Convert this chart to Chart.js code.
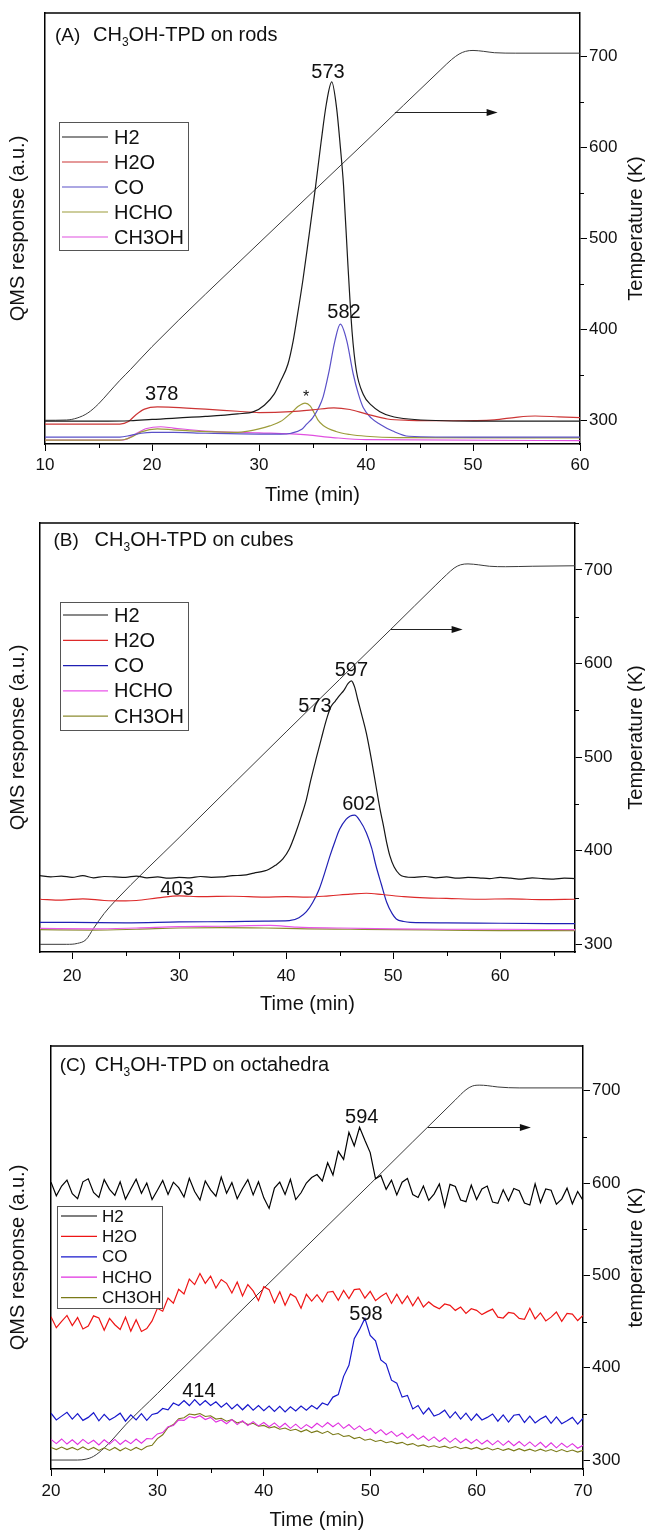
<!DOCTYPE html>
<html>
<head>
<meta charset="utf-8">
<title>CH3OH-TPD</title>
<script src="https://cdn.jsdelivr.net/npm/chart.js@4.4.1/dist/chart.umd.min.js"></script>
<style>
  body { margin: 0; background: #fff; }
  .panel { position: absolute; left: 0; width: 645px; }
</style>
</head>
<body>
<div class="panel" style="top:0;height:510px"><canvas id="chartA" width="645" height="510"></canvas></div>
<div class="panel" style="top:510px;height:515px"><canvas id="chartB" width="645" height="515"></canvas></div>
<div class="panel" style="top:1025px;height:514px"><canvas id="chartC" width="645" height="514"></canvas></div>
<script>
const FONT = "'Liberation Sans', Arial, sans-serif";
const SERIES = ['H2', 'H2O', 'CO', 'HCHO', 'CH3OH'];
const tempTicks = [300, 400, 500, 600, 700];

// ---------- (A) rods ----------
const xTicksA = [10, 20, 30, 40, 50, 60];
const tempA_t = [10, 12, 13, 14, 15, 16, 17, 18, 20, 30, 40, 47, 48, 48.7, 49.3, 50, 51, 52, 54, 60];
const tempA   = [300, 300.3, 302.5, 308, 318, 331, 344, 356, 381, 495, 607, 686, 697, 703, 706, 707, 706, 704.5, 704, 704];

const h2A_t = [10, 15, 18, 20, 25, 28, 29.5, 30.5, 31.4, 32, 32.7, 33.2, 33.6, 34.1, 34.6, 35.3, 35.8, 36.3, 36.8, 37.25,
               37.6, 37.9, 38.3, 38.7, 39.1, 39.75, 40.5, 41.3, 42.3, 44, 50, 60];
const h2A   = [5.3, 5.3, 5.4, 5.7, 6.4, 7.0, 7.5, 9.0, 11.5, 14.5, 18.5, 24, 30, 38, 47, 60, 70, 79, 84, 78,
               69, 60, 42, 26, 17, 11.5, 9, 7.5, 6.5, 5.8, 5.3, 5.3];
const h2oA_t = [10, 17, 17.8, 18.5, 19.3, 20.5, 22, 25, 28, 30, 33, 35, 37, 38.5, 40, 42, 44, 48, 52, 54, 55.8, 58, 60];
const h2oA   = [4.6, 4.6, 5.2, 6.8, 8.1, 8.6, 8.5, 8.1, 7.6, 7.3, 7.5, 7.9, 8.4, 8.0, 7.0, 5.8, 5.5, 5.4, 5.6, 6.2, 6.5, 6.3, 6.1];
const coA_t = [10, 17, 18, 19, 20, 22, 25, 30, 32, 33, 34, 34.45, 35, 35.6, 36, 36.5, 37.1, 37.6, 38.2, 38.8,
               39.3, 39.75, 40.5, 41.3, 42.5, 44, 50, 60];
const coA   = [1.6, 1.6, 2.0, 2.5, 2.7, 2.7, 2.5, 2.3, 2.3, 2.5, 3.4, 4.6, 6.0, 8.5, 11, 16.3, 24, 27.8, 24, 16.3,
               11.5, 8.4, 6.0, 4.6, 3.0, 1.8, 1.6, 1.6];
const hchoA_t = [10, 17, 18, 19, 20.5, 22, 24, 26, 28, 29, 30, 31, 32, 33, 33.7, 34.3, 34.8, 35.2, 35.5, 36, 37.2, 38.5, 40, 43, 60];
const hchoA   = [0.9, 0.9, 1.5, 2.8, 3.5, 3.3, 3.0, 2.8, 2.7, 3.0, 3.5, 4.2, 5.2, 7.2, 8.8, 9.5, 8.8, 7.0, 5.6, 4.3, 2.9, 2.2, 1.8, 1.5, 1.4];
const ch3ohA_t = [10, 17, 17.7, 18.5, 19.5, 20.8, 22, 25, 30, 34.5, 36.9, 40, 60];
const ch3ohA   = [0.9, 0.9, 1.2, 2.4, 3.6, 4.0, 3.7, 3.0, 2.6, 2.1, 1.5, 1.0, 0.8];

const notesA_text = ['573', '582', '378', '*'];
const notesA_t    = [36.45, 37.94, 20.9, 34.4];
const notesA_v    = [86.2, 30.5, 11.4, 10.7];

// ---------- (B) cubes ----------
const xTicksB = [20, 30, 40, 50, 60];
const tempB_t = [17, 19.5, 20.5, 21.3, 22, 23, 24, 30, 40, 50, 54, 55, 55.7, 56.3, 57, 58, 59, 60.5, 63, 67];
const tempB   = [300, 300, 301, 305, 317, 333, 346, 414, 527, 639, 684, 695, 702, 705.5, 706.5, 705.5, 704, 703.5, 704, 704.5];

const h2B_t = [17, 18, 19, 20, 21, 22, 23, 24, 25, 26, 27, 28, 29, 30, 31, 32, 33, 34, 35, 36, 37, 38,
               38.4, 39, 39.7, 40.3, 40.9, 41.4, 41.9, 42.3, 42.8, 43.3,
               43.75, 44.2, 44.6, 45, 45.4, 45.8, 46.1, 46.4, 46.7, 47.1,
               47.5, 48, 48.4, 48.8, 49.1, 49.4, 49.7, 50.1, 50.6, 51,
               52, 53, 54, 55, 56, 57, 58, 59, 60, 61, 62, 63, 64, 65, 66, 67];
const h2B   = [17.8, 17.5, 17.7, 17.4, 17.8, 17.3, 17.6, 17.5, 17.4, 17.7, 17.3, 17.5, 17.2, 17.4, 17.3, 17.6, 17.4, 17.5, 17.8, 17.9, 18.4, 18.9,
               19.3, 20.2, 21.7, 24.0, 27.8, 31.5, 35.6, 40.0, 45.0, 49.8,
               54.0, 57.2, 58.5, 59.8, 61.0, 62.6, 63.2, 61.8, 58.8, 55.0,
               51.0, 44.5, 38.7, 33.0, 29.4, 25.5, 22.4, 19.8, 18.1, 17.6,
               17.4, 17.6, 17.3, 17.5, 17.2, 17.4, 17.3, 17.1, 17.4, 17.2, 17.0, 17.3, 17.1, 17.0, 17.2, 17.1];
const h2oB_t = [17, 19, 21, 23, 25, 26, 28, 30, 32, 35, 38, 40, 42, 44, 46, 47.5, 49, 51, 53, 55, 58, 61, 64, 67];
const h2oB   = [12.3, 12.1, 12.4, 12.0, 11.9, 12.0, 12.6, 13.1, 12.9, 13.0, 12.8, 12.9, 12.8, 13.1, 13.5, 13.7, 13.4, 12.9, 12.6, 12.5, 12.3, 12.4, 12.2, 12.3];
const coB_t = [17, 20, 25, 30, 35, 38, 40.3, 41.2, 41.9, 42.5, 43.1, 43.6, 44.1, 44.6, 45, 45.6, 46, 46.4, 46.9, 47.5,
               48, 48.4, 48.9, 49.4, 49.9, 50.3, 51, 51.6, 55, 60, 67];
const coB   = [6.9, 6.9, 6.8, 7.0, 7.1, 7.2, 7.3, 8.0, 9.4, 11.6, 14.7, 18.4, 22.4, 26.0, 28.6, 30.9, 31.7, 31.9, 30.6, 27.8,
               24.2, 20.1, 15.8, 11.6, 9.0, 7.7, 7.1, 6.9, 6.8, 6.7, 6.6];
const hchoB_t = [17, 22, 26, 30, 34, 38.5, 41, 45, 50, 55, 60, 67];
const hchoB   = [5.5, 5.4, 5.6, 5.9, 6.0, 6.2, 5.8, 5.6, 5.4, 5.3, 5.3, 5.2];
const ch3ohB_t = [17, 22, 26, 30, 34, 38, 42, 46, 50, 55, 60, 67];
const ch3ohB   = [5.2, 5.1, 5.3, 5.6, 5.7, 5.6, 5.4, 5.3, 5.2, 5.1, 5.0, 5.0];

const notesB_text = ['597', '573', '602', '403'];
const notesB_t    = [46.1, 42.7, 46.8, 29.8];
const notesB_v    = [65.7, 57.3, 34.5, 14.5];

// ---------- (C) octahedra ----------
const xTicksC = [20, 30, 40, 50, 60, 70];
const tempC_t = [20, 22.5, 23.3, 24, 25, 26, 27, 30, 40, 50, 58, 59, 59.6, 60.3, 61, 62, 64, 70];
const tempC   = [300, 300, 301, 304, 313, 325, 338, 372, 486, 599, 690, 701, 705, 706, 705.5, 704, 703, 703];

const timeC = [20, 20.5, 21, 21.5, 22, 22.5, 23, 23.5, 24, 24.5, 25, 25.5, 26, 26.5, 27, 27.5, 28, 28.5, 29, 29.5,
               30, 30.5, 31, 31.5, 32, 32.5, 33, 33.5, 34, 34.5, 35, 35.5, 36, 36.5, 37, 37.5, 38, 38.5, 39, 39.5,
               40, 40.5, 41, 41.5, 42, 42.5, 43, 43.5, 44, 44.5, 45, 45.5, 46, 46.5, 47, 47.5, 48, 48.5, 49, 49.5,
               50, 50.5, 51, 51.5, 52, 52.5, 53, 53.5, 54, 54.5, 55, 55.5, 56, 56.5, 57, 57.5, 58, 58.5, 59, 59.5,
               60, 60.5, 61, 61.5, 62, 62.5, 63, 63.5, 64, 64.5, 65, 65.5, 66, 66.5, 67, 67.5, 68, 68.5, 69, 69.5, 70];
const h2C = [67.8, 64.6, 66.9, 68.3, 65.1, 63.9, 67.9, 68.6, 65.4, 64.2,
             68.4, 66.1, 64.7, 67.9, 63.8, 66.2, 68.5, 65.2, 67.6, 63.7,
             65.9, 68.2, 64.9, 67.8, 66.5, 64.3, 68.7, 65.6, 63.6, 68.1,
             66.0, 64.5, 69.0, 65.2, 67.7, 63.9, 66.3, 68.4, 64.8, 67.9,
             64.1, 61.6, 66.4, 67.8, 64.9, 68.5, 63.7, 65.3, 67.6, 68.9,
             69.6, 68.1, 72.4, 69.5, 75.1, 73.2, 79.6, 76.4, 80.8, 77.7,
             74.8, 68.6, 69.4, 66.1, 68.3, 64.8, 67.8, 68.7, 64.9, 64.2,
             66.9, 63.5, 65.0, 67.4, 62.0, 67.3, 66.8, 63.6, 63.2, 67.1,
             63.7, 66.2, 66.9, 63.1, 62.8, 66.0, 63.4, 66.3, 65.8, 62.9,
             62.4, 67.4, 63.0, 66.2, 65.9, 62.6, 63.8, 66.4, 62.7, 65.6, 63.5];
const h2oC = [36.0, 33.4, 34.9, 36.3, 33.9, 35.8, 33.1, 33.8, 36.2, 35.7,
              32.8, 35.6, 34.1, 33.0, 35.9, 32.6, 35.3, 32.5, 33.2, 35.0,
              38.0, 37.3, 40.4, 39.2, 42.5, 41.4, 44.9, 43.6, 46.2, 43.9,
              45.6, 42.8, 44.8, 43.9, 41.6, 44.2, 40.9, 43.6, 42.1, 39.8,
              43.1, 42.4, 39.3, 41.9, 38.7, 41.4, 40.6, 38.0, 41.3, 39.7,
              41.2, 39.5, 41.8, 42.0, 39.9, 42.2, 40.3, 42.4, 42.6, 40.4,
              42.0, 39.8, 40.8, 41.6, 39.2, 41.3, 39.1, 40.9, 38.6, 40.6,
              38.3, 39.5, 38.5, 37.9, 39.0, 38.7, 37.5, 38.3, 36.8, 37.9,
              37.5, 36.5, 37.2, 37.8, 35.9, 35.7, 37.0, 36.8, 35.6, 35.4,
              38.0, 35.5, 36.9, 35.0, 35.9, 37.1, 34.9, 36.8, 36.6, 35.1, 36.3];
const coC = [13.2, 11.6, 12.5, 13.4, 11.8, 13.1, 11.5, 12.2, 13.3, 11.4,
             12.9, 11.6, 12.3, 13.2, 11.3, 12.8, 11.6, 13.1, 11.5, 12.9,
             13.2, 14.3, 14.0, 15.6, 15.0, 16.2, 15.0, 16.4, 15.1, 16.2,
             15.0, 15.9, 14.6, 15.6, 14.2, 15.3, 14.0, 15.2, 13.9, 15.0,
             13.8, 14.9, 13.6, 14.8, 13.5, 14.7, 13.7, 14.9, 13.9, 15.0,
             14.2, 15.6, 15.1, 17.0, 17.6, 21.9, 24.5, 30.8, 33.0, 35.6,
             31.6, 30.3, 25.8, 24.8, 21.0, 20.3, 17.0, 17.4, 14.2, 15.0,
             13.0, 14.4, 12.5, 13.0, 13.9, 12.1, 13.5, 11.8, 13.2, 11.5,
             13.0, 11.6, 12.2, 13.0, 11.3, 12.8, 11.1, 12.7, 12.9, 11.0,
             12.5, 10.9, 11.8, 12.5, 10.8, 12.3, 10.7, 11.4, 12.2, 10.6, 12.0];
const hchoC = [7.0, 6.0, 7.1, 5.9, 6.9, 5.8, 7.0, 6.0, 6.8, 5.7,
               6.9, 5.9, 7.0, 5.8, 6.8, 6.0, 7.1, 6.1, 7.2, 7.1,
               8.3, 8.6, 10.0, 10.3, 11.6, 11.5, 12.4, 12.1, 12.6, 11.7,
               12.2, 11.1, 11.6, 10.7, 11.7, 10.5, 11.4, 10.3, 11.2, 10.2,
               11.0, 10.0, 10.9, 9.8, 10.8, 9.6, 10.6, 9.5, 10.5, 9.7,
               10.8, 9.9, 11.0, 10.0, 10.9, 9.6, 10.5, 9.3, 10.2, 9.0,
               9.6, 8.4, 9.3, 8.1, 8.9, 7.7, 8.5, 7.3, 8.2, 7.0,
               7.8, 6.7, 7.6, 6.5, 7.4, 6.3, 7.3, 6.2, 7.1, 6.1,
               7.0, 5.9, 6.8, 5.7, 6.7, 5.6, 6.6, 5.5, 6.5, 5.4,
               6.4, 5.3, 6.3, 5.1, 6.2, 5.0, 6.1, 5.1, 6.0, 4.9, 5.6];
const ch3ohC = [5.1, 4.6, 5.2, 4.6, 5.1, 4.5, 5.2, 4.5, 5.1, 4.4,
                5.0, 4.4, 5.1, 4.3, 5.0, 4.4, 5.1, 4.5, 5.3, 5.6,
                7.2, 8.1, 9.8, 10.5, 11.9, 12.1, 13.0, 12.8, 13.1, 12.4,
                12.6, 11.8, 12.0, 11.3, 11.7, 10.9, 11.2, 10.5, 10.8, 10.1,
                10.3, 9.7, 10.0, 9.4, 9.7, 9.1, 9.4, 8.8, 9.3, 8.6,
                9.0, 8.4, 8.9, 8.1, 8.4, 7.7, 7.9, 7.2, 7.5, 6.8,
                7.1, 6.5, 6.8, 6.2, 6.5, 6.0, 6.3, 5.7, 6.0, 5.4,
                5.7, 5.2, 5.5, 5.1, 5.4, 4.9, 5.3, 4.8, 5.1, 4.7,
                5.1, 4.6, 5.0, 4.5, 4.9, 4.4, 4.8, 4.3, 4.8, 4.3,
                4.7, 4.2, 4.7, 4.2, 4.6, 4.1, 4.6, 4.1, 4.5, 4.0, 4.4];

const notesC_text = ['594', '598', '414'];
const notesC_t    = [49.2, 49.6, 33.9];
const notesC_v    = [83.1, 36.6, 18.3];

// -------------------------------------------------------------
function pts(ts, vs) {
    return ts.map((t, i) => ({ x: t, y: vs[i] }));
}

const decorPlugin = {
    id: 'decor',
    afterDatasetsDraw(chart, args, o) {
        const ctx = chart.ctx;
        const a = chart.chartArea;
        const xs = chart.scales.x, ys = chart.scales.y, y2 = chart.scales.y2;
        ctx.save();

        // top frame line
        ctx.strokeStyle = '#000';
        ctx.lineWidth = 1.5;
        ctx.beginPath();
        ctx.moveTo(a.left, a.top);
        ctx.lineTo(a.right, a.top);
        ctx.stroke();

        // minor ticks
        ctx.lineWidth = 1;
        ctx.beginPath();
        for (let v = Math.ceil(xs.min / 5) * 5; v <= xs.max; v += 5) {
            if (v % 10 === 0) continue;
            const px = Math.round(xs.getPixelForValue(v)) + 0.5;
            ctx.moveTo(px, a.bottom);
            ctx.lineTo(px, a.bottom + 4);
        }
        for (let v = Math.ceil(y2.min / 50) * 50; v <= y2.max; v += 50) {
            if (v % 100 === 0) continue;
            const py = Math.round(y2.getPixelForValue(v)) + 0.5;
            ctx.moveTo(a.right, py);
            ctx.lineTo(a.right + 4, py);
        }
        ctx.stroke();

        // right axis title (reads bottom to top)
        ctx.fillStyle = '#111';
        ctx.save();
        ctx.translate(o.rightTitleX, (a.top + a.bottom) / 2);
        ctx.rotate(-Math.PI / 2);
        ctx.font = '20px ' + FONT;
        ctx.textAlign = 'center';
        ctx.textBaseline = 'middle';
        ctx.fillText(o.rightTitle, 0, 0);
        ctx.restore();

        // panel title with subscript
        const t = o.title;
        ctx.textAlign = 'left';
        ctx.textBaseline = 'alphabetic';
        ctx.font = '19px ' + FONT;
        const ty = a.top + t.dy;
        ctx.fillText(t.tag, a.left + t.dx, ty);
        let x = a.left + t.dx2;
        ctx.font = '20px ' + FONT;
        ctx.fillText('CH', x, ty);
        x += ctx.measureText('CH').width;
        ctx.font = '12px ' + FONT;
        ctx.fillText('3', x, ty + 5);
        x += ctx.measureText('3').width;
        ctx.font = '20px ' + FONT;
        ctx.fillText(t.rest, x, ty);

        // legend
        const L = o.legend;
        ctx.fillStyle = '#fff';
        ctx.fillRect(L.x, L.y, L.w, L.h);
        ctx.strokeStyle = '#555';
        ctx.lineWidth = 1;
        ctx.strokeRect(L.x + 0.5, L.y + 0.5, L.w, L.h);
        ctx.font = L.font + 'px ' + FONT;
        ctx.textBaseline = 'middle';
        const items = chart.data.datasets.filter(d => d.yAxisID === 'y');
        items.forEach((d, i) => {
            const ry = L.row0 + i * L.step;
            ctx.strokeStyle = d.borderColor;
            ctx.lineWidth = 1.2;
            ctx.beginPath();
            ctx.moveTo(L.line0, ry);
            ctx.lineTo(L.line1, ry);
            ctx.stroke();
            ctx.fillStyle = '#111';
            ctx.fillText(d.label, L.textX, ry + 1);
        });

        // peak labels
        ctx.textAlign = 'center';
        ctx.textBaseline = 'middle';
        ctx.fillStyle = '#111';
        o.notes.text.forEach((s, i) => {
            ctx.font = (s === '*' ? '16px ' : '20px ') + FONT;
            ctx.fillText(s, xs.getPixelForValue(o.notes.t[i]), ys.getPixelForValue(o.notes.v[i]));
        });

        // arrow pointing to the temperature axis
        const ar = o.arrow;
        const ax0 = xs.getPixelForValue(ar.t0), ax1 = xs.getPixelForValue(ar.t1);
        const ay = Math.round(y2.getPixelForValue(ar.temp)) + 0.5;
        ctx.strokeStyle = '#222';
        ctx.lineWidth = 1;
        ctx.beginPath();
        ctx.moveTo(ax0, ay);
        ctx.lineTo(ax1 - 8, ay);
        ctx.stroke();
        ctx.fillStyle = '#111';
        ctx.beginPath();
        ctx.moveTo(ax1, ay);
        ctx.lineTo(ax1 - 11, ay - 3.5);
        ctx.lineTo(ax1 - 11, ay + 3.5);
        ctx.closePath();
        ctx.fill();

        ctx.restore();
    }
};

function makeChart(id, p) {
    const datasets = p.series.map(s => ({
        label: s.label,
        data: pts(s.t, s.v),
        borderColor: s.color,
        borderWidth: s.width || 1.2,
        pointRadius: 0,
        yAxisID: 'y',
        cubicInterpolationMode: p.smooth ? 'monotone' : 'default',
        tension: 0
    }));
    datasets.push({
        label: 'Temperature',
        data: pts(p.temp.t, p.temp.v),
        borderColor: '#3a3a3a',
        borderWidth: 1,
        pointRadius: 0,
        yAxisID: 'y2',
        cubicInterpolationMode: 'monotone'
    });

    return new Chart(document.getElementById(id), {
        type: 'line',
        data: { datasets: datasets },
        plugins: [decorPlugin],
        options: {
            responsive: false,
            animation: false,
            devicePixelRatio: 1,
            layout: { padding: { top: p.padTop, left: 0, right: 0, bottom: 0 } },
            plugins: {
                legend: { display: false },
                tooltip: { enabled: false },
                decor: {
                    rightTitle: p.rightTitle,
                    rightTitleX: 636,
                    title: p.title,
                    legend: p.legend,
                    notes: p.notes,
                    arrow: p.arrow
                }
            },
            scales: {
                x: {
                    type: 'linear',
                    min: p.xMin,
                    max: p.xMax,
                    afterBuildTicks: s => { s.ticks = p.xTicks.map(v => ({ value: v })); },
                    ticks: { color: '#111', font: { size: 17 }, padding: p.xTickPad, maxRotation: 0 },
                    grid: { drawOnChartArea: false, drawTicks: true, tickLength: 7, color: '#000', lineWidth: 1 },
                    border: { display: true, color: '#000', width: 1.5 },
                    title: { display: true, text: 'Time (min)', color: '#111', font: { size: 20 }, padding: { top: 0, bottom: p.xTitlePad } },
                    afterFit: s => { s.height = p.xHeight; }
                },
                y: {
                    position: 'left',
                    min: 0,
                    max: 100,
                    ticks: { display: false },
                    grid: { display: false },
                    border: { display: true, color: '#000', width: 1.5 },
                    title: { display: true, text: 'QMS response (a.u.)', color: '#111', font: { size: 20 }, padding: { top: 6, bottom: 0 } },
                    afterFit: s => { s.width = p.leftW; }
                },
                y2: {
                    position: 'right',
                    min: p.tMin,
                    max: p.tMax,
                    afterBuildTicks: s => { s.ticks = tempTicks.map(v => ({ value: v })); },
                    ticks: { color: '#111', font: { size: 17 }, padding: 2 },
                    grid: { drawOnChartArea: false, drawTicks: true, tickLength: 7, color: '#000', lineWidth: 1 },
                    border: { display: true, color: '#000', width: 1.5 },
                    afterFit: s => { s.width = p.rightW; }
                }
            }
        }
    });
}

Chart.defaults.font.family = FONT;

makeChart('chartA', {
    smooth: true,
    xMin: 10, xMax: 60, tMin: 273.9, tMax: 748.2, xTicks: xTicksA,
    padTop: 13, leftW: 45, rightW: 65, xHeight: 66, xTickPad: 4, xTitlePad: 3,
    rightTitle: 'Temperature (K)',
    title: { tag: '(A)', rest: 'OH-TPD on rods', dx: 10, dx2: 48, dy: 28 },
    legend: { x: 59, y: 122, w: 129, h: 128, row0: 137, step: 25, line0: 62, line1: 108, textX: 114, font: 20 },
    notes: { text: notesA_text, t: notesA_t, v: notesA_v },
    arrow: { t0: 42.7, t1: 52.3, temp: 639.3 },
    temp: { t: tempA_t, v: tempA },
    series: [
        { label: SERIES[0], t: h2A_t, v: h2A, color: '#1a1a1a' },
        { label: SERIES[1], t: h2oA_t, v: h2oA, color: '#cc3535' },
        { label: SERIES[2], t: coA_t, v: coA, color: '#5a50c8' },
        { label: SERIES[3], t: hchoA_t, v: hchoA, color: '#9c9c3a' },
        { label: SERIES[4], t: ch3ohA_t, v: ch3ohA, color: '#e050e0' }
    ]
});

makeChart('chartB', {
    smooth: true,
    xMin: 17, xMax: 67, tMin: 291.8, tMax: 750.2, xTicks: xTicksB,
    padTop: 13, leftW: 40, rightW: 70, xHeight: 73, xTickPad: 7, xTitlePad: 9,
    rightTitle: 'Temperature (K)',
    title: { tag: '(B)', rest: 'OH-TPD on cubes', dx: 13.5, dx2: 54.6, dy: 23 },
    legend: { x: 60, y: 92, w: 128, h: 128, row0: 105, step: 25.3, line0: 63, line1: 108, textX: 114, font: 20 },
    notes: { text: notesB_text, t: notesB_t, v: notesB_v },
    arrow: { t0: 49.8, t1: 56.5, temp: 636.6 },
    temp: { t: tempB_t, v: tempB },
    series: [
        { label: SERIES[0], t: h2B_t, v: h2B, color: '#151515' },
        { label: SERIES[1], t: h2oB_t, v: h2oB, color: '#dd2a2a' },
        { label: SERIES[2], t: coB_t, v: coB, color: '#2020b4' },
        { label: SERIES[3], t: hchoB_t, v: hchoB, color: '#ea55ea' },
        { label: SERIES[4], t: ch3ohB_t, v: ch3ohB, color: '#8c8c30' }
    ]
});

makeChart('chartC', {
    smooth: false,
    xMin: 20, xMax: 70, tMin: 290.3, tMax: 748.4, xTicks: xTicksC,
    padTop: 21, leftW: 51, rightW: 62, xHeight: 70, xTickPad: 5, xTitlePad: 7,
    rightTitle: 'temperature (K)',
    title: { tag: '(C)', rest: 'OH-TPD on octahedra', dx: 8.7, dx2: 43.7, dy: 25 },
    legend: { x: 57, y: 181, w: 105, h: 102, row0: 191, step: 20.4, line0: 61, line1: 97, textX: 102, font: 17 },
    notes: { text: notesC_text, t: notesC_t, v: notesC_v },
    arrow: { t0: 55.4, t1: 65.1, temp: 660.4 },
    temp: { t: tempC_t, v: tempC },
    series: [
        { label: SERIES[0], t: timeC, v: h2C, color: '#000000', width: 1.2 },
        { label: SERIES[1], t: timeC, v: h2oC, color: '#ee1515', width: 1.2 },
        { label: SERIES[2], t: timeC, v: coC, color: '#1818cc', width: 1.2 },
        { label: SERIES[3], t: timeC, v: hchoC, color: '#e030e0', width: 1.1 },
        { label: SERIES[4], t: timeC, v: ch3ohC, color: '#7a7a18', width: 1.1 }
    ]
});
</script>
</body>
</html>
